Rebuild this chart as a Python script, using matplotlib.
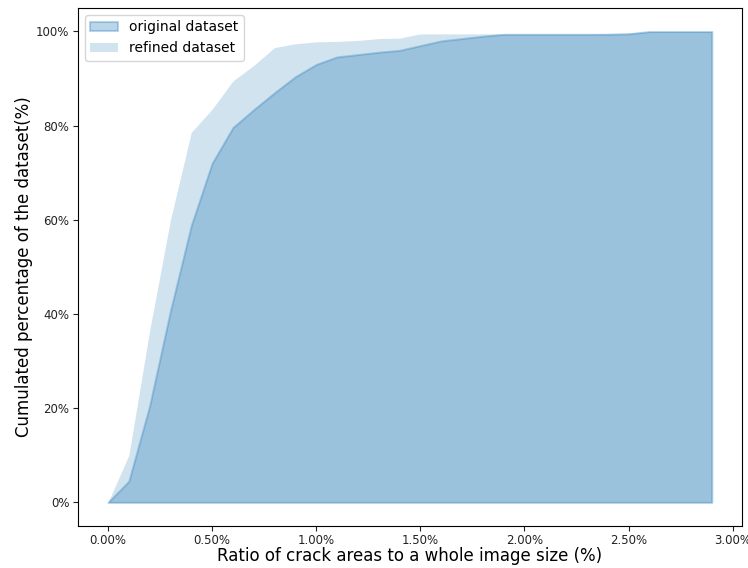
import matplotlib
matplotlib.use("Agg")
import matplotlib.pyplot as plt
from matplotlib.ticker import PercentFormatter

ratio = [0.0, 0.1, 0.2, 0.3, 0.4, 0.5, 0.6, 0.7, 0.8, 0.9, 1.0, 1.1, 1.2, 1.3, 1.4,
         1.5, 1.6, 1.7, 1.8, 1.9, 2.0, 2.1, 2.2, 2.3, 2.4, 2.5, 2.6, 2.7, 2.8, 2.9]
original = [0.0, 4.5, 20.5, 40.7, 58.8, 72.0, 79.6, 83.4, 87.0, 90.4, 93.0, 94.6, 95.1,
            95.6, 96.0, 97.0, 98.0, 98.5, 99.0, 99.4, 99.4, 99.4, 99.4, 99.4, 99.4,
            99.5, 100.0, 100.0, 100.0, 100.0]
refined = [0.0, 10.0, 36.5, 60.0, 78.6, 83.5, 89.5, 92.8, 96.6, 97.4, 97.8, 97.9, 98.1,
           98.5, 98.6, 99.5, 99.5, 99.5, 99.5, 99.5, 99.5, 99.5, 99.5, 99.5, 99.6,
           99.7, 100.0, 100.0, 100.0, 100.0]

fig = plt.figure(figsize=(7.48, 5.68), dpi=100)
ax = fig.add_axes([0.104, 0.074, 0.888, 0.912])

ax.fill_between(ratio, 0, original, color="#1f77b4", alpha=0.3, linewidth=1.5,
                label="original dataset")
ax.fill_between(ratio, 0, refined, color="#1f77b4", alpha=0.2, linewidth=0,
                label="refined dataset")

ax.xaxis.set_major_formatter(PercentFormatter(100, decimals=2))
ax.yaxis.set_major_formatter(PercentFormatter(100, decimals=0))
ax.set_xticks([0.0, 0.5, 1.0, 1.5, 2.0, 2.5, 3.0])
ax.set_yticks([0, 20, 40, 60, 80, 100])
ax.tick_params(labelsize=8.5, colors="#222222", pad=2.5)
ax.set_xlabel("Ratio of crack areas to a whole image size (%)", fontsize=12, labelpad=0)
ax.set_ylabel("Cumulated percentage of the dataset(%)", fontsize=12, labelpad=2)
ax.legend(loc="upper left", fontsize=10)

fig.savefig("out.png", dpi=100)
